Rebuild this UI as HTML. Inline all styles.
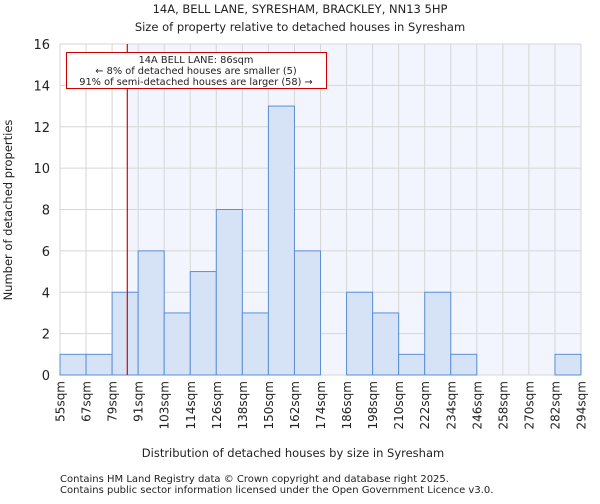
<!DOCTYPE html>
<html><head><meta charset="utf-8"><style>
body{margin:0;background:#fff;font-family:"DejaVu Sans","Liberation Sans",sans-serif}
svg text{font-family:"DejaVu Sans","Liberation Sans",sans-serif;fill:#222}
</style></head><body>
<svg id="chart" width="600" height="500">
<text x="300" y="13" font-size="11.5" text-anchor="middle">14A, BELL LANE, SYRESHAM, BRACKLEY, NN13 5HP</text>
<text x="300" y="31" font-size="11.5" text-anchor="middle">Size of property relative to detached houses in Syresham</text>
<g id="plot"></g>
<text x="293" y="457" font-size="11.5" text-anchor="middle">Distribution of detached houses by size in Syresham</text>
<text transform="translate(12,210) rotate(-90)" font-size="11.5" text-anchor="middle">Number of detached properties</text>
<text x="60" y="482" font-size="10">Contains HM Land Registry data © Crown copyright and database right 2025.</text>
<text x="60" y="493" font-size="10">Contains public sector information licensed under the Open Government Licence v3.0.</text>
</svg>
<script>
const binLabels=["55sqm","67sqm","79sqm","91sqm","103sqm","114sqm","126sqm","138sqm","150sqm","162sqm","174sqm","186sqm","198sqm","210sqm","222sqm","234sqm","246sqm","258sqm","270sqm","282sqm","294sqm"];
const counts=[1,1,4,6,3,5,8,3,13,6,0,4,3,1,4,1,0,0,0,1];
const yTicks=[0,2,4,6,8,10,12,14,16];
const binEdges=[55,67,79,91,103,114,126,138,150,162,174,186,198,210,222,234,246,258,270,282,294];
const propertySize=86;
const L=60,R=581,T=44,B=375,yMax=16;
const ns="http://www.w3.org/2000/svg";
const g=document.getElementById("plot");
function xi(i){return L+(R-L)*i/counts.length;}
function xv(v){let i=0;while(i<binEdges.length-2&&v>binEdges[i+1])i++;return xi(i)+(v-binEdges[i])/(binEdges[i+1]-binEdges[i])*(xi(i+1)-xi(i));}
function y(v){return B-(B-T)*v/yMax;}
function mk(t,a){const e=document.createElementNS(ns,t);for(const k in a)e.setAttribute(k,a[k]);g.appendChild(e);return e;}
const px=xv(propertySize);
let e=mk("rect",{x:px,y:T,width:R-px,height:B-T,fill:"#f2f5fd"});


for(let i=0;i<=counts.length;i++){e=mk("line",{x1:xi(i),x2:xi(i),y1:T,y2:B,stroke:"#d6d6d6","stroke-width":1});

}
yTicks.forEach(t=>{e=mk("line",{x1:L,x2:R,y1:y(t),y2:y(t),stroke:"#d6d6d6","stroke-width":1});


e=mk("text",{x:L-10,y:y(t)+5,"font-size":13,"text-anchor":"end"});e.textContent=t;

});
counts.forEach((c,i)=>{if(c<=0)return;e=mk("rect",{x:xi(i),y:y(c),width:xi(i+1)-xi(i),height:B-y(c),fill:"#d6e2f5",stroke:"#5b8fd6","stroke-width":1});

});
binLabels.forEach((l,i)=>{const x=xi(i);e=mk("text",{transform:`translate(${x+4.5},381) rotate(-90)`,"font-size":12,"text-anchor":"end"});e.textContent=l;

});
e=mk("line",{x1:px,x2:px,y1:T,y2:B,stroke:"#dd0000","stroke-width":1.2});


e=mk("rect",{x:66.5,y:52.5,width:260,height:36,fill:"#fff",stroke:"#cc0000","stroke-width":1});


["14A BELL LANE: 86sqm","← 8% of detached houses are smaller (5)","91% of semi-detached houses are larger (58) →"].forEach((s,i)=>{e=mk("text",{x:196,y:63+i*11,"font-size":9.8,"text-anchor":"middle"});e.textContent=s;

});
</script>
</body></html>
